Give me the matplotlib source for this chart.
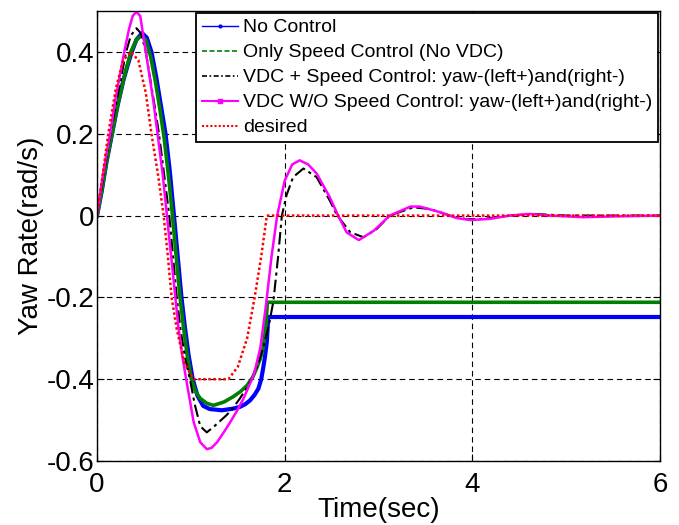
import matplotlib
matplotlib.use("Agg")
import matplotlib.pyplot as plt
from matplotlib.lines import Line2D

plt.rcParams['font.family'] = ['Liberation Sans', 'DejaVu Sans']
plt.rcParams['axes.unicode_minus'] = False

# ---- data ----
t_nc = [0, 0.05, 0.10, 0.16, 0.22, 0.28, 0.33, 0.37, 0.42, 0.48, 0.53, 0.58, 0.63, 0.68, 0.73, 0.775,
        0.82, 0.86, 0.90, 0.935, 0.975, 1.02, 1.07, 1.13, 1.20, 1.33, 1.45, 1.52, 1.58, 1.63, 1.68,
        1.72, 1.75, 1.77, 1.79, 1.81, 1.825, 6.0]
y_nc = [0, 0.06, 0.13, 0.20, 0.27, 0.33, 0.37, 0.40, 0.43, 0.446, 0.435, 0.40, 0.34, 0.27, 0.20, 0.11,
        0.0, -0.10, -0.20, -0.27, -0.34, -0.40, -0.44, -0.465, -0.473, -0.476, -0.472, -0.468, -0.461,
        -0.452, -0.438, -0.423, -0.40, -0.374, -0.345, -0.308, -0.248, -0.248]

t_sc = [0, 0.05, 0.10, 0.16, 0.22, 0.28, 0.36, 0.42, 0.47, 0.52, 0.57, 0.62, 0.67, 0.715, 0.76, 0.80,
        0.84, 0.88, 0.915, 0.96, 1.005, 1.05, 1.10, 1.17, 1.24, 1.35, 1.45, 1.53, 1.60, 1.66, 1.70,
        1.74, 1.77, 1.80, 1.815, 6.0]
y_sc = [0, 0.06, 0.13, 0.20, 0.27, 0.33, 0.40, 0.43, 0.439, 0.43, 0.39, 0.33, 0.26, 0.19, 0.10, 0.01,
        -0.09, -0.19, -0.26, -0.34, -0.40, -0.43, -0.447, -0.459, -0.464, -0.456, -0.443, -0.43, -0.415,
        -0.395, -0.374, -0.35, -0.324, -0.27, -0.212, -0.212]

t_vs = [0, 0.05, 0.10, 0.145, 0.20, 0.25, 0.31, 0.36, 0.42, 0.47, 0.52, 0.57, 0.62, 0.66, 0.71, 0.77,
        0.81, 0.85, 0.89, 0.94, 0.99, 1.04, 1.10, 1.17, 1.25, 1.38, 1.45, 1.52, 1.60, 1.67, 1.72, 1.77,
        1.83, 1.88, 1.93, 1.97, 2.02, 2.09, 2.20, 2.34, 2.48, 2.56, 2.70, 2.84, 2.98, 3.12, 3.37, 3.55,
        3.76, 3.94, 4.12, 4.40, 4.65, 5.0, 6.0]
y_vs = [0, 0.07, 0.14, 0.20, 0.27, 0.33, 0.40, 0.44, 0.458, 0.445, 0.40, 0.33, 0.26, 0.20, 0.11, 0.0,
        -0.10, -0.20, -0.278, -0.35, -0.40, -0.46, -0.515, -0.530, -0.515, -0.488, -0.470, -0.448, -0.42,
        -0.39, -0.36, -0.324, -0.27, -0.209, -0.10, 0.0, 0.05, 0.094, 0.115, 0.094, 0.037, 0.0, -0.041,
        -0.053, -0.033, 0.0, 0.020, 0.016, 0.0, -0.009, -0.008, 0.0, 0.004, 0.0, 0.0]

t_vw = [0, 0.05, 0.10, 0.14, 0.20, 0.25, 0.29, 0.34, 0.38, 0.42, 0.46, 0.52, 0.56, 0.60, 0.645, 0.70,
        0.745, 0.79, 0.835, 0.87, 0.91, 0.95, 1.03, 1.10, 1.17, 1.22, 1.28, 1.35, 1.42, 1.49, 1.56,
        1.67, 1.74, 1.80, 1.86, 1.92, 2.00, 2.08, 2.16, 2.25, 2.34, 2.48, 2.57, 2.66, 2.79, 2.95, 3.12,
        3.34, 3.44, 3.66, 3.83, 3.98, 4.19, 4.40, 4.61, 4.83, 5.18, 5.54, 6.0]
y_vw = [0, 0.08, 0.15, 0.20, 0.29, 0.35, 0.40, 0.455, 0.488, 0.498, 0.488, 0.40, 0.34, 0.28, 0.20, 0.10,
        0.0, -0.10, -0.20, -0.278, -0.345, -0.40, -0.505, -0.554, -0.571, -0.568, -0.554, -0.53, -0.505,
        -0.478, -0.448, -0.390, -0.324, -0.22, -0.10, 0.0, 0.085, 0.125, 0.135, 0.125, 0.103, 0.045, 0.0,
        -0.041, -0.060, -0.037, 0.0, 0.022, 0.022, 0.008, -0.006, -0.011, -0.008, 0.0, 0.004, 0.0, -0.004,
        -0.002, 0.0]

t_des = [0, 0.06, 0.12, 0.20, 0.28, 0.36, 0.44, 0.52, 0.58, 0.65, 0.71, 0.755, 0.795, 0.85, 0.93,
         1.03, 1.40, 1.50, 1.60, 1.68, 1.75, 1.81, 6.0]
y_des = [0, 0.10, 0.20, 0.31, 0.38, 0.40, 0.38, 0.30, 0.20, 0.10, 0.0, -0.10, -0.20, -0.278, -0.36,
         -0.40, -0.40, -0.37, -0.30, -0.20, -0.10, 0.0, 0.0]

labels = ["No Control",
          "Only Speed Control (No VDC)",
          "VDC + Speed Control: yaw-(left+)and(right-)",
          "VDC W/O Speed Control: yaw-(left+)and(right-)",
          "desired"]
x_ticks = [0, 2, 4, 6]
y_ticks = [-0.6, -0.4, -0.2, 0, 0.2, 0.4]
y_ticklabels = ["-0.6", "-0.4", "-0.2", "0", "0.2", "0.4"]

fig = plt.figure(figsize=(6.79, 5.25), dpi=100)
ax = fig.add_axes([0.1429, 0.1219, 0.8291, 0.8571])

ax.plot(t_nc, y_nc, color=(0, 0, 1), lw=3.0, solid_joinstyle='round')
ax.plot(t_sc, y_sc, color=(0, 0.5, 0), lw=2.6)
ax.plot(t_vs, y_vs, color='black', lw=1.5, linestyle=(0, (6, 2, 1.5, 2)))
ax.plot(t_vw, y_vw, color=(1, 0, 1), lw=1.8)
ax.plot(t_des, y_des, color=(1, 0, 0), lw=1.8, linestyle=(0, (1, 1)))

ax.set_xlim(0, 6)
ax.set_ylim(-0.6, 0.5)
ax.set_xticks(x_ticks)
ax.set_xticklabels([str(v) for v in x_ticks])
ax.set_yticks(y_ticks)
ax.set_yticklabels(y_ticklabels)
ax.tick_params(direction='in', length=5, width=0.8, top=True, right=True, labelsize=20)
ax.tick_params(axis='y', pad=2)
ax.tick_params(axis='x', pad=8)
ax.grid(True, color='black', linestyle=(0, (5, 3.5)), linewidth=0.8)
ax.set_axisbelow(True)
for s in ax.spines.values():
    s.set_linewidth(1.0)
    s.set_color('black')

ax.set_xlabel("Time(sec)", fontsize=20, labelpad=-1)
ax.set_ylabel("Yaw Rate(rad/s)", fontsize=20, labelpad=2)

handles = [
    Line2D([], [], color=(0, 0, 1), lw=1.0, marker='.', markersize=4),
    Line2D([], [], color=(0, 0.5, 0), lw=1.2, linestyle=(0, (3, 1.5))),
    Line2D([], [], color='black', lw=1.2, linestyle=(0, (3, 1.5, 1, 1.5))),
    Line2D([], [], color=(1, 0, 1), lw=1.5, marker='s', markersize=2.5),
    Line2D([], [], color=(1, 0, 0), lw=1.5, linestyle=(0, (1, 1))),
]
leg = ax.legend(handles, labels, loc='upper right', fontsize=14, fancybox=False, framealpha=1,
                edgecolor='black', borderaxespad=0.1, handlelength=1.85, handletextpad=0.25,
                labelspacing=0.38, borderpad=0.3)
leg.get_frame().set_linewidth(1.3)

fig.savefig("out.png", dpi=100)
